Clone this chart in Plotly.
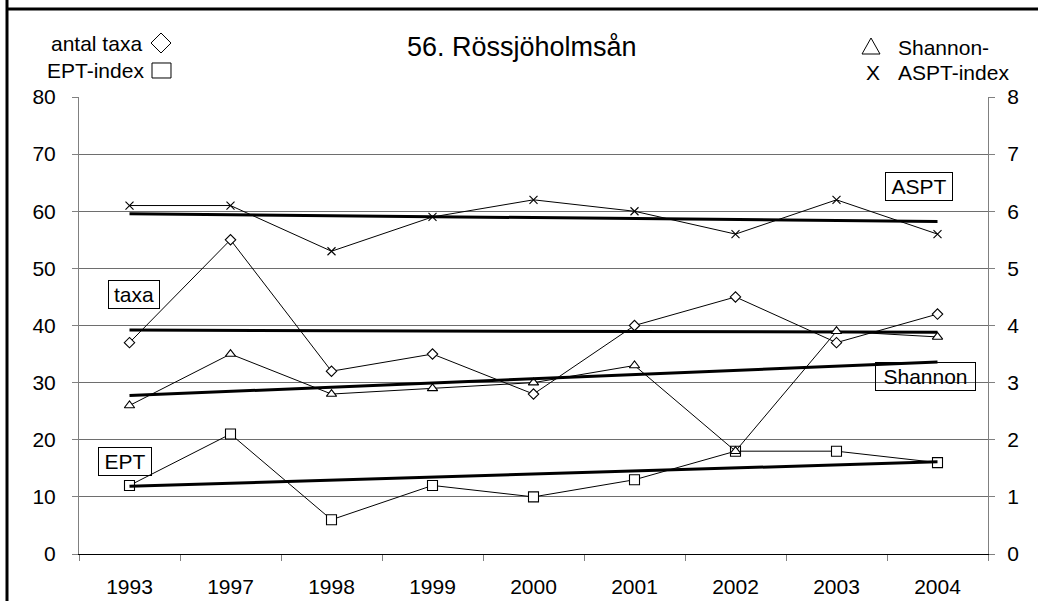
import numpy as np
import plotly.graph_objects as go

# Sampling years (category axis)
years = ["1993", "1997", "1998", "1999", "2000", "2001", "2002", "2003", "2004"]

# Left axis series
antal_taxa = [37, 55, 32, 35, 28, 40, 45, 37, 42]
ept_index = [12, 21, 6, 12, 10, 13, 18, 18, 16]

# Right axis series
shannon = [2.6, 3.5, 2.8, 2.9, 3.0, 3.3, 1.8, 3.9, 3.8]
aspt = [6.1, 6.1, 5.3, 5.9, 6.2, 6.0, 5.6, 6.2, 5.6]

left_ticks = [0, 10, 20, 30, 40, 50, 60, 70, 80]
right_ticks = [0, 1, 2, 3, 4, 5, 6, 7, 8]

# Figure geometry (pixels)
W, H = 1038, 601
L, R, T, B = 79, 988, 97, 554
PW, PH = R - L, B - T

FONT = "Liberation Sans, Arial, sans-serif"
GRID = "#6e6e6e"


def px(x):
    return (x - L) / PW


def py(y):
    return (B - y) / PH


def trend(values):
    # Linear least-squares trend over the category index (1..n)
    idx = np.arange(1, len(values) + 1)
    k, m = np.polyfit(idx, values, 1)
    return list(k * idx + m)


fig = go.Figure()


def series(y, symbol, size, axis, fill="white"):
    fig.add_trace(go.Scatter(
        x=years, y=y, yaxis=axis, mode="lines+markers",
        line=dict(color="black", width=1),
        marker=dict(symbol=symbol, size=size, color=fill,
                    line=dict(color="black", width=1.1)),
        showlegend=False, cliponaxis=False,
    ))


series(aspt, "x-thin", 8, "y2", fill="black")
series(antal_taxa, "diamond", 8, "y")
series(shannon, "triangle-up", 9, "y2")
series(ept_index, "square", 10, "y")

for vals, axis in [(aspt, "y2"), (antal_taxa, "y"), (shannon, "y2"), (ept_index, "y")]:
    fig.add_trace(go.Scatter(
        x=years, y=trend(vals), yaxis=axis, mode="lines",
        line=dict(color="black", width=3), showlegend=False,
        hoverinfo="skip",
    ))

fig.update_layout(
    width=W, height=H,
    margin=dict(l=L, r=W - R, t=T, b=H - B),
    paper_bgcolor="white", plot_bgcolor="white",
    font=dict(family=FONT, size=21, color="black"),
    xaxis=dict(
        type="category", categoryorder="array", categoryarray=years,
        range=[-0.5, len(years) - 0.5], tickson="boundaries",
        ticks="outside", ticklen=6, tickcolor="#808080", tickwidth=1,
        showline=True, linecolor="black", linewidth=1,
        showgrid=False, zeroline=False, ticklabelstandoff=14,
        automargin=False,
        tickfont=dict(family=FONT, size=21, color="black"),
    ),
    yaxis=dict(
        range=[0, 80], tickvals=left_ticks, ticks="outside", ticklen=6,
        tickcolor="#808080", showline=True, linecolor="#808080", linewidth=1,
        showgrid=True, gridcolor=GRID, gridwidth=1, zeroline=False,
        ticklabelstandoff=12, automargin=False,
        tickfont=dict(family=FONT, size=21, color="black"),
    ),
    yaxis2=dict(
        range=[0, 8], tickvals=right_ticks, overlaying="y", side="right",
        ticks="outside", ticklen=6, tickcolor="#808080", showline=True,
        linecolor="#808080", linewidth=1, showgrid=False, zeroline=False,
        ticklabelstandoff=8, automargin=False,
        tickfont=dict(family=FONT, size=21, color="black"),
    ),
)

annotations = []


def text(x, y, s, anchor="center", size=21):
    annotations.append(dict(
        x=px(x), y=py(y), xref="paper", yref="paper", text=s,
        showarrow=False, xanchor=anchor, yanchor="middle",
        font=dict(family=FONT, size=size, color="black"),
    ))


def boxed(x0, y0, x1, y1, s):
    annotations.append(dict(
        x=px((x0 + x1) / 2), y=py((y0 + y1) / 2), xref="paper", yref="paper",
        text=s, showarrow=False, xanchor="center", yanchor="middle",
        width=x1 - x0 - 6, height=y1 - y0 - 6, align="center",
        bordercolor="black", borderwidth=1, borderpad=2,
        bgcolor="rgba(0,0,0,0)",
        font=dict(family=FONT, size=21, color="black"),
    ))


text(522, 47, "56. Rössjöholmsån", size=27)
text(144, 43, "antal taxa", anchor="right")
text(146, 70, "EPT-index", anchor="right")
text(896, 47, "Shannon-", anchor="left")
text(896, 73, "ASPT-index", anchor="left")
text(873, 73, "X")

boxed(885, 172, 953, 201, "ASPT")
boxed(108, 280, 160, 309, "taxa")
boxed(875, 362, 976, 391, "Shannon")
boxed(98, 447, 152, 476, "EPT")

fig.update_layout(annotations=annotations)

shapes = []


def path(points):
    d = "M " + " L ".join(f"{px(a):.5f},{py(b):.5f}" for a, b in points) + " Z"
    shapes.append(dict(type="path", path=d, xref="paper", yref="paper",
                       line=dict(color="black", width=1), fillcolor="white"))


# Symbol keys beside the legend texts
path([(161, 33), (171, 43), (161, 53), (151, 43)])          # diamond
path([(152, 63), (171, 63), (171, 78), (152, 78)])          # square
path([(871, 38), (880, 54), (862, 54)])                      # triangle

# Frame lines along the left and top edges
shapes.append(dict(type="line", xref="paper", yref="paper",
                   x0=px(7), x1=px(7), y0=py(0), y1=py(H),
                   line=dict(color="black", width=3)))
shapes.append(dict(type="line", xref="paper", yref="paper",
                   x0=px(6), x1=px(W), y0=py(9), y1=py(9),
                   line=dict(color="black", width=3)))

fig.update_layout(shapes=shapes)

fig.write_html("out.html")
